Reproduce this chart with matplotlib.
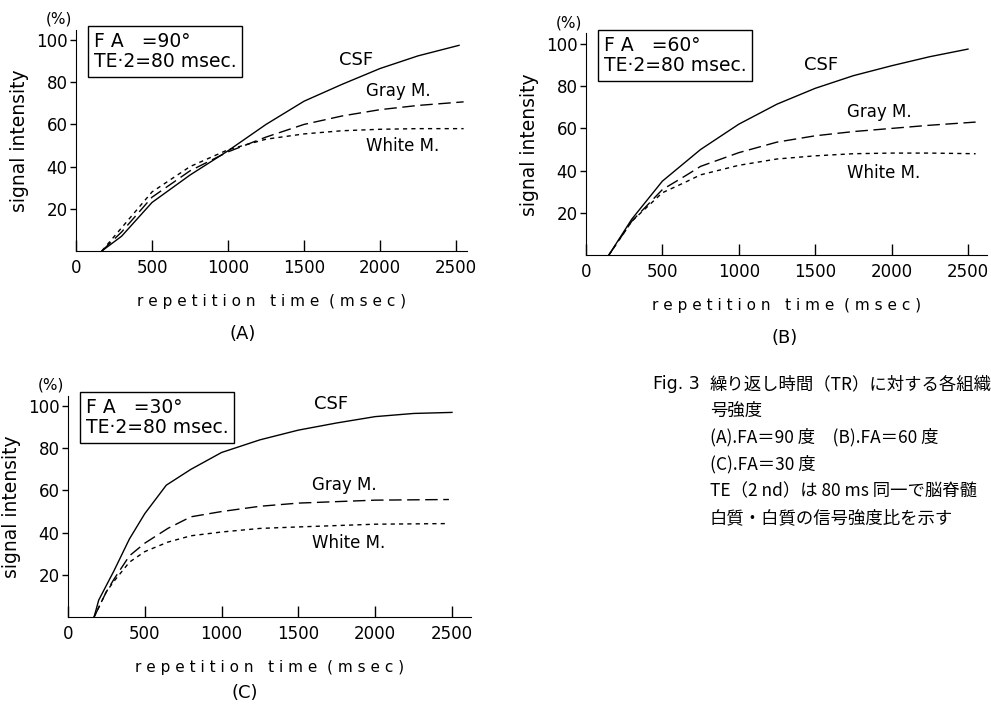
import matplotlib.pyplot as plt

plt.rcParams['font.family'] = ['DejaVu Sans', 'Noto Sans CJK JP']

# ---------- data ----------
# (A) FA = 90
tr_csf_a = [170, 300, 500, 750, 1000, 1250, 1500, 1750, 2000, 2250, 2520]
csf_a = [0, 7, 23, 36, 47.5, 60, 71, 79, 86.5, 92.5, 97.5]
tr_gray_a = [170, 300, 500, 750, 1000, 1250, 1500, 1750, 2000, 2250, 2550]
gray_a = [0, 9, 25.5, 38, 47, 54, 60, 64, 67, 69, 70.7]
white_a = [0, 11, 28, 40, 48, 53, 55.5, 57, 57.7, 58, 58]

# (B) FA = 60
tr_csf_b = [150, 300, 500, 750, 1000, 1250, 1500, 1750, 2000, 2250, 2500]
csf_b = [0, 17, 35, 50, 62, 71.5, 79, 85, 89.7, 94, 97.6]
tr_gray_b = [150, 300, 500, 650, 750, 1000, 1250, 1500, 1750, 2000, 2250, 2550]
gray_b = [0, 16, 31, 37.5, 42, 48.5, 53.5, 56.5, 58.5, 60, 61.5, 63]
white_b = [0, 16, 29.5, 34.5, 38, 42.5, 45.5, 47, 48, 48.3, 48.3, 48]

# (C) FA = 30
tr_csf_c = [170, 200, 300, 400, 500, 640, 800, 1000, 1250, 1500, 1750, 2000, 2250, 2500]
csf_c = [0, 8, 22, 37, 49, 62.5, 70, 78, 84, 88.6, 92, 95, 96.5, 97]
tr_gray_c = [170, 250, 300, 400, 500, 650, 800, 1000, 1250, 1500, 2000, 2480]
gray_c = [0, 12, 18, 29, 35, 42, 47.5, 50, 52.5, 54, 55.4, 55.7]
white_c = [0, 12, 17, 26, 31, 35.5, 38.5, 40.3, 42, 42.7, 44, 44.3]

x_ticks = [0, 500, 1000, 1500, 2000, 2500]
y_ticks = [20, 40, 60, 80, 100]

caption = ["繰り返し時間（TR）に対する各組織",
           "号強度",
           "(A).FA＝90 度　(B).FA＝60 度",
           "(C).FA＝30 度",
           "TE（2 nd）は 80 ms 同一で脳脊髄",
           "白質・白質の信号強度比を示す"]

fig = plt.figure(figsize=(9.91, 7.11), dpi=100)


def panel(rect, xmax, tr_csf, csf, tr_gm, gray, white, fa, letter, lab_pos,
          letter_xy):
    ax = fig.add_axes(rect)
    ax.plot(tr_csf, csf, color='black', lw=1.0)
    ax.plot(tr_gm, gray, color='black', lw=1.0, dashes=(9, 4))
    ax.plot(tr_gm, white, color='black', lw=1.0, dashes=(3, 3))
    ax.set_xlim(0, xmax)
    ax.set_ylim(0, 105)
    for s in ['top', 'right']:
        ax.spines[s].set_visible(False)
    ax.set_xticks(x_ticks)
    ax.set_yticks(y_ticks)
    ax.tick_params(axis='x', direction='in', length=8, width=1, pad=6,
                   labelsize=12)
    ax.tick_params(axis='y', direction='out', length=4, width=1, pad=2,
                   labelsize=12)
    ax.set_xlabel('r e p e t i t i o n   t i m e  ( m s e c )', fontsize=11,
                  labelpad=12)
    ax.set_ylabel('signal intensity', fontsize=13.5, labelpad=5)
    ax.text(-0.01, 1.015, '(%)', transform=ax.transAxes, ha='right',
            va='bottom', fontsize=11)
    ax.text(0.045, 0.99, 'F A   =%d°\nTE·2=80 msec.' % fa,
            transform=ax.transAxes, ha='left', va='top', fontsize=13.5,
            linespacing=1.1,
            bbox=dict(boxstyle='square,pad=0.3', fc='white', ec='black',
                      lw=1.0))
    (cx, cy), (gx, gy), (wx, wy) = lab_pos
    ax.text(cx, cy, 'CSF', fontsize=13, ha='left', va='center')
    ax.text(gx, gy, 'Gray M.', fontsize=12, ha='left', va='center')
    ax.text(wx, wy, 'White M.', fontsize=12, ha='left', va='center')
    fig.text(letter_xy[0] / 991, 1 - letter_xy[1] / 711, '(%s)' % letter,
             ha='center', va='center', fontsize=13)
    return ax


panel([0.0767, 0.647, 0.3945, 0.3115], 2572, tr_csf_a, csf_a,
      tr_gray_a, gray_a, white_a, 90, 'A',
      [(1730, 90.5), (1910, 76), (1910, 50)], (243, 334))
panel([0.5913, 0.6414, 0.4046, 0.3115], 2624, tr_csf_b, csf_b,
      tr_gray_b, gray_b, white_b, 60, 'B',
      [(1430, 90), (1705, 68), (1705, 39)], (785, 338))
panel([0.0686, 0.1322, 0.4067, 0.3115], 2624, tr_csf_c, csf_c,
      tr_gray_c, gray_c, white_c, 30, 'C',
      [(1600, 101), (1590, 62.5), (1590, 35)], (245, 693))

fig.text(653 / 991, 1 - 384 / 711, 'Fig. 3', fontsize=12.5, va='center')
for i, line in enumerate(caption):
    fig.text(710 / 991, 1 - (384 + i * 26.8) / 711, line, fontsize=12.5,
             va='center', family=['Noto Sans CJK JP', 'DejaVu Sans'])

fig.savefig('out.png', dpi=100)
